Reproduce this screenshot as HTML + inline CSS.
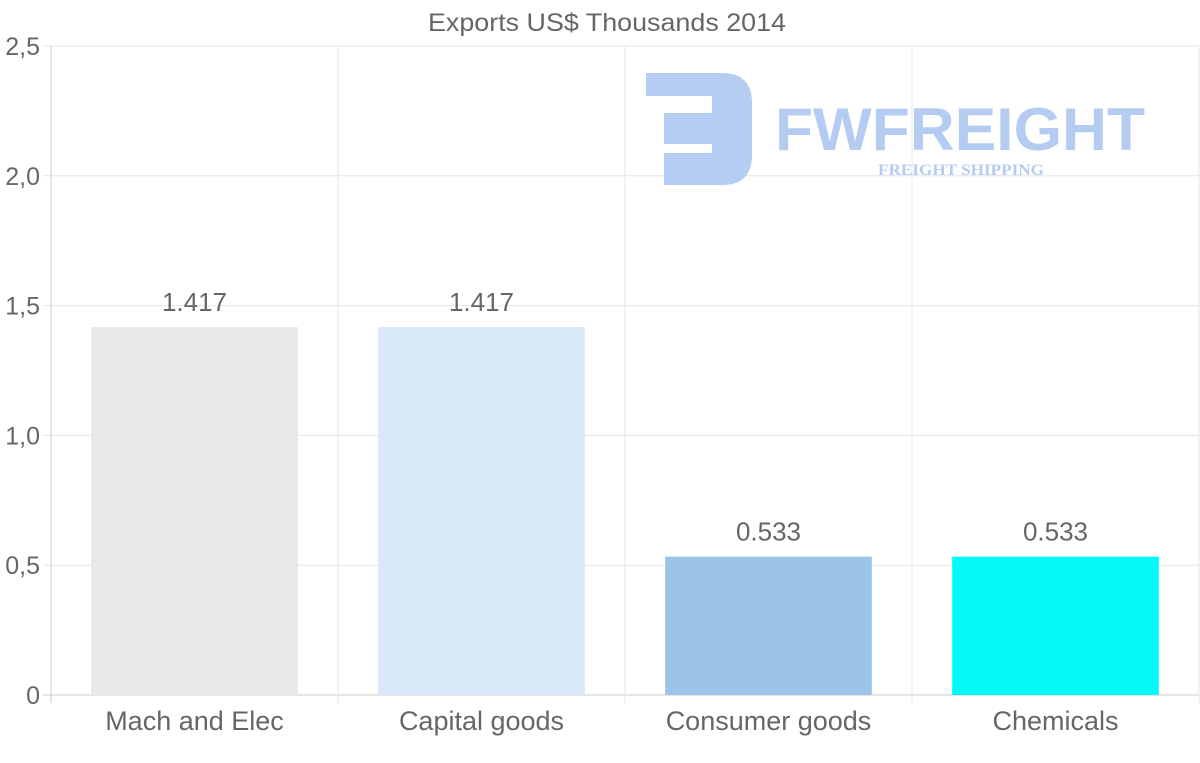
<!DOCTYPE html>
<html><head><meta charset="utf-8"><style>
html,body{margin:0;padding:0;background:#fff;}
svg{display:block;font-family:"Liberation Sans",sans-serif;}
</style></head><body>
<svg id="chart" width="1200" height="763">
<text x="607" y="31" text-anchor="middle" font-size="25" fill="#666" textLength="358" lengthAdjust="spacingAndGlyphs">Exports US$ Thousands 2014</text>
<g id="grid"></g>
<g id="logo" opacity="0.85">
<path d="M646 73 H722 Q752 73 752 103 V155 Q752 185 722 185 H664 V153 H712 V144 H664 V113 H712 V96 H646 Z" fill="#a8c4f0"/>
<text x="775" y="150" font-size="60" font-weight="bold" fill="#a8c4f0" textLength="370" lengthAdjust="spacingAndGlyphs">FWFREIGHT</text>
<text x="878" y="175" font-size="16" font-weight="bold" font-family="Liberation Serif,serif" fill="#a8c4f0" textLength="166" lengthAdjust="spacingAndGlyphs">FREIGHT SHIPPING</text>
</g>
<g id="bars"></g>
<g id="axes"></g>
</svg>
<script>
const categories = ["Mach and Elec","Capital goods","Consumer goods","Chemicals"];
const values = [1.417,1.417,0.533,0.533];
const valueLabels = ["1.417","1.417","0.533","0.533"];
const yTicks = [0,0.5,1.0,1.5,2.0,2.5];
const yTickLabels = ["0","0,5","1,0","1,5","2,0","2,5"];
const colors = ["#e8e8e8","#d8e8f8","#9bc4e8","#04f8f8"];

const NS="http://www.w3.org/2000/svg";
const L=51,R=1199,T=46,B=695,yMax=2.5;
const y=v=>B-(v/yMax)*(B-T);
const band=(R-L)/categories.length;
const x=i=>L+i*band;
function mk(tag,attrs,parent,text){const e=document.createElementNS(NS,tag);for(const k in attrs)e.setAttribute(k,attrs[k]);if(text!==undefined)e.textContent=text;parent.appendChild(e);return e;}
const grid=document.getElementById('grid'),bars=document.getElementById('bars'),axes=document.getElementById('axes');
yTicks.forEach((t,i)=>{
  const ln=mk('line',{x1:L-8,x2:R,y1:y(t),y2:y(t),stroke:i===0?"#ccc":"#e6e6e6","stroke-width":1},grid);
  
  
  const tx=mk('text',{x:40,y:y(t)+9,"text-anchor":"end","font-size":25,fill:"#666"},axes,yTickLabels[i]);
  
  
});
for(let i=0;i<=categories.length;i++){
  const ln=mk('line',{x1:x(i),x2:x(i),y1:T,y2:B+8,stroke:i===0?"#ccc":"#e6e6e6","stroke-width":1},grid);
  
  
}
categories.forEach((c,i)=>{
  const bw=band*0.72,bx=x(i)+(band-bw)/2;
  const r=mk('rect',{x:bx,y:y(values[i]),width:bw,height:B-y(values[i]),fill:colors[i]},bars);
  
  
  const vl=mk('text',{x:x(i)+band/2,y:y(values[i])-16,"text-anchor":"middle","font-size":26,fill:"#666"},bars,valueLabels[i]);
  
  
  const cl=mk('text',{x:x(i)+band/2,y:730,"text-anchor":"middle","font-size":27,fill:"#666"},axes,c);
  
  
});
</script>
</body></html>
